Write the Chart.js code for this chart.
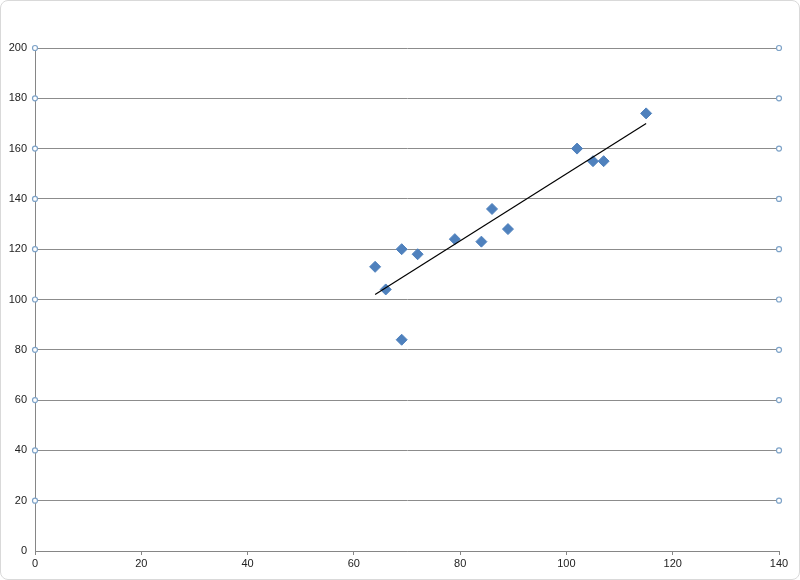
<!DOCTYPE html>
<html>
<head>
<meta charset="utf-8">
<script src="https://cdn.jsdelivr.net/npm/chart.js@4/dist/chart.umd.min.js"></script>
<style>
  html, body { margin: 0; padding: 0; background: #fff; }
  canvas { position: absolute; left: 0; top: 0; }
  #frame { position: absolute; left: 0; top: 0; width: 798px; height: 578px; border: 1px solid #d9d9d9; border-radius: 8px; pointer-events: none; }
</style>
</head>
<body>
<canvas id="c" width="800" height="580"></canvas>
<div id="frame"></div>
<script>
// observed points
const xs = [64, 66, 69, 69, 72, 79, 84, 86, 89, 102, 105, 107, 115];
const ys = [113, 104, 120, 84, 118, 124, 123, 136, 128, 160, 155, 155, 174];
// linear trend line end points
const trendX = [64, 115];
const trendY = [102, 170];
// edge markers sitting on each gridline
const edgeY = [20, 40, 60, 80, 100, 120, 140, 160, 180, 200];
const edgeX = [0, 140];

const pts = xs.map((x, i) => ({x: x, y: ys[i]}));
const trend = trendX.map((x, i) => ({x: x, y: trendY[i]}));
const edges = [];
edgeX.forEach(x => edgeY.forEach(y => edges.push({x: x, y: y})));

const axisFont = {family: 'Liberation Sans', size: 11};

new Chart(document.getElementById('c'), {
  type: 'scatter',
  data: {
    datasets: [
      {
        data: pts,
        pointStyle: 'rectRot',
        pointRadius: 5.5,
        backgroundColor: '#4F81BD',
        borderColor: '#4F81BD',
        borderWidth: 1,
        order: 1
      },
      {
        type: 'line',
        data: trend,
        showLine: true,
        borderColor: '#000',
        borderWidth: 1.2,
        pointRadius: 0,
        fill: false,
        order: 0
      },
      {
        data: edges,
        pointStyle: 'circle',
        pointRadius: 2.5,
        backgroundColor: '#fff',
        borderColor: '#7EA3C8',
        borderWidth: 1.2,
        clip: false,
        order: 2
      }
    ]
  },
  options: {
    responsive: false,
    animation: false,
    layout: {padding: {top: 48, right: 21, left: 0, bottom: 0}},
    plugins: {legend: {display: false}, tooltip: {enabled: false}},
    scales: {
      x: {
        type: 'linear',
        min: 0, max: 140,
        ticks: {stepSize: 20, color: '#222', font: axisFont, padding: 2},
        grid: {display: true, drawOnChartArea: false, drawTicks: true, tickLength: 4, color: '#868686'},
        border: {display: true, color: '#868686', width: 1},
        afterFit: s => { s.height = 29; }
      },
      y: {
        min: 0, max: 200,
        ticks: {stepSize: 20, color: '#222', font: axisFont, padding: 8},
        grid: {color: '#8c8c8c', lineWidth: 1, drawTicks: false},
        border: {display: true, color: '#868686', width: 1},
        afterFit: s => { s.width = 35; }
      }
    }
  }
});
</script>
</body>
</html>
